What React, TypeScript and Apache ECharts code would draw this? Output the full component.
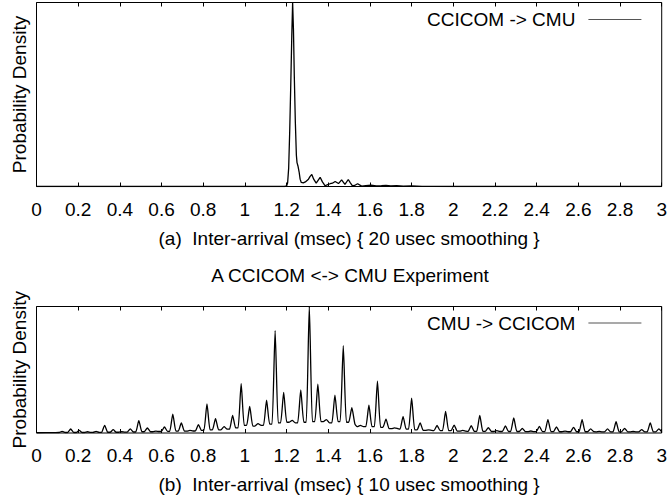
import React, { useEffect, useRef } from "react";
import * as echarts from "echarts";

const FONT = "'Liberation Sans', Arial, Helvetica, sans-serif";

const xTickMin = 0;
const xTickMax = 3;
const xTickInterval = 0.2;

const seriesNames = ["CCICOM -> CMU", "CMU -> CCICOM"];
const xAxisTitles = [
  "(a)  Inter-arrival (msec) { 20 usec smoothing }",
  "(b)  Inter-arrival (msec) { 10 usec smoothing }",
];
const yAxisTitle = "Probability Density";
const chartTitle = "A CCICOM <-> CMU Experiment";

// (a) CCICOM -> CMU, 20 usec smoothing  [msec, relative density %]
const densityA: [number, number][] = [
  [0, 0], [1.19, 0], [1.2, 0.3], [1.205, 2], [1.21, 10], [1.215, 30], [1.22, 55],
  [1.225, 82], [1.229, 100], [1.233, 85], [1.237, 60], [1.242, 35], [1.247, 17],
  [1.25, 13], [1.255, 11], [1.26, 8], [1.265, 4], [1.27, 2.3], [1.28, 2], [1.29, 2.5],
  [1.305, 4], [1.313, 5.5], [1.321, 6.5], [1.33, 4], [1.342, 1.8], [1.352, 3.5],
  [1.361, 5], [1.372, 2.5], [1.385, 0.4], [1.397, 1], [1.409, 1.5], [1.42, 1.8],
  [1.433, 2.7], [1.449, 1.6], [1.464, 3.6], [1.48, 1.1], [1.496, 3.8], [1.506, 2],
  [1.516, 0.4], [1.53, 0.8], [1.541, 1.5], [1.56, 0.2], [1.58, 0.5], [1.605, 0.7],
  [1.63, 0.3], [1.655, 0.4], [1.677, 0.6], [1.7, 0.3], [1.728, 0.5], [1.76, 0.2],
  [1.8, 0.3], [1.85, 0.1], [1.9, 0.1], [2, 0], [3, 0],
];

// (b) CMU -> CCICOM, 10 usec smoothing  [msec, relative density %]
const densityB: [number, number][] = [
  [0, 0.2], [0.09, 0.3],
  [0.108, 0.4], [0.123, 1.3], [0.138, 0.4],
  [0.149, 0.4], [0.164, 3.2], [0.179, 0.4],
  [0.19, 0.4], [0.205, 2], [0.22, 0.4],
  [0.23, 0.4], [0.245, 1], [0.26, 0.5],
  [0.271, 0.5], [0.286, 1.3], [0.301, 0.5],
  [0.312, 0.5], [0.327, 6], [0.342, 0.6],
  [0.353, 0.6], [0.368, 2.6], [0.383, 0.6],
  [0.394, 0.6], [0.409, 1], [0.424, 0.7],
  [0.435, 0.7], [0.45, 3.2], [0.465, 0.8],
  [0.476, 0.8], [0.491, 9.8], [0.506, 1],
  [0.517, 1], [0.532, 4], [0.547, 1],
  [0.558, 1], [0.573, 1.5], [0.588, 1.2],
  [0.599, 1.2], [0.614, 4.8], [0.629, 1.3],
  [0.639, 1.3], [0.654, 15], [0.669, 1.5],
  [0.68, 1.5], [0.695, 8], [0.71, 1.5],
  [0.721, 1.5], [0.736, 2], [0.751, 1.6],
  [0.762, 1.6], [0.777, 6.6], [0.792, 2],
  [0.803, 2], [0.818, 23], [0.833, 2.5],
  [0.844, 2.5], [0.859, 11.4], [0.874, 2.5],
  [0.885, 2.5], [0.9, 5], [0.915, 3],
  [0.926, 3], [0.941, 14], [0.956, 4],
  [0.967, 4], [0.982, 39], [0.997, 6],
  [1.008, 6], [1.023, 21], [1.038, 5.5],
  [1.048, 5.5], [1.063, 7.4], [1.078, 6],
  [1.089, 6], [1.104, 26], [1.119, 7],
  [1.13, 7], [1.145, 81], [1.16, 8],
  [1.171, 8], [1.186, 32], [1.201, 8.5],
  [1.212, 8.5], [1.227, 10], [1.242, 8],
  [1.253, 8], [1.268, 34], [1.283, 8.5],
  [1.294, 8.5], [1.309, 100], [1.324, 9],
  [1.335, 9], [1.35, 38.6], [1.365, 9],
  [1.376, 9], [1.391, 10.6], [1.406, 8],
  [1.417, 8], [1.432, 30], [1.447, 9],
  [1.457, 9], [1.472, 69], [1.487, 8.5],
  [1.498, 8.5], [1.513, 20], [1.528, 7],
  [1.539, 5], [1.554, 6], [1.569, 5],
  [1.58, 5], [1.595, 22], [1.61, 5],
  [1.621, 5], [1.636, 41], [1.651, 4.5],
  [1.662, 4.5], [1.677, 11], [1.692, 3.5],
  [1.703, 3.5], [1.718, 4], [1.733, 3.5],
  [1.744, 3], [1.759, 13], [1.774, 3],
  [1.785, 3], [1.8, 27.5], [1.815, 2.5],
  [1.826, 2.5], [1.841, 8], [1.856, 2],
  [1.866, 2], [1.881, 2.5], [1.896, 2],
  [1.907, 1.8], [1.922, 6], [1.937, 1.8],
  [1.948, 1.8], [1.963, 17], [1.978, 1.8],
  [1.989, 1.8], [2.004, 6.3], [2.019, 1.5],
  [2.03, 1.5], [2.045, 2], [2.06, 1.5],
  [2.071, 1.3], [2.086, 5.8], [2.101, 1.3],
  [2.112, 1.3], [2.127, 14], [2.142, 1.3],
  [2.153, 1.3], [2.168, 4.2], [2.183, 1.2],
  [2.194, 1.2], [2.209, 1.8], [2.224, 1.2],
  [2.235, 1.2], [2.25, 5.6], [2.265, 1.2],
  [2.275, 1.2], [2.29, 12], [2.305, 1.2],
  [2.316, 1.2], [2.331, 3.7], [2.346, 1.1],
  [2.357, 1.1], [2.372, 1.6], [2.387, 1.1],
  [2.398, 1.1], [2.413, 5.3], [2.428, 1.1],
  [2.439, 1.1], [2.454, 10.6], [2.469, 1.1],
  [2.48, 1.1], [2.495, 4.8], [2.51, 1],
  [2.521, 1], [2.536, 1.5], [2.551, 1],
  [2.562, 1], [2.577, 4.5], [2.592, 1],
  [2.603, 1], [2.618, 10.6], [2.633, 1],
  [2.644, 1], [2.659, 3.2], [2.674, 1],
  [2.685, 0.9], [2.7, 1.3], [2.715, 0.9],
  [2.725, 0.9], [2.74, 3.2], [2.755, 0.9],
  [2.766, 0.9], [2.781, 9], [2.796, 0.9],
  [2.807, 0.9], [2.822, 3.7], [2.837, 0.9],
  [2.848, 0.9], [2.863, 1.2], [2.878, 0.9],
  [2.889, 0.9], [2.904, 2.6], [2.919, 0.9],
  [2.93, 0.9], [2.945, 8], [2.96, 0.9],
  [2.971, 0.9], [2.986, 3.2], [3, 1],
];

export default function App() {
  const ref = useRef<HTMLDivElement>(null);

  useEffect(() => {
    if (!ref.current) return;
    const chart = echarts.init(ref.current, undefined, { renderer: "svg" });

    const textBase = { fontFamily: FONT, fontSize: 19, color: "#000" };

    const xBottom = (gridIndex: number, title: string) => ({
      type: "value",
      gridIndex,
      position: "bottom",
      min: xTickMin,
      max: xTickMax,
      interval: xTickInterval,
      axisLine: { show: false },
      axisTick: { show: true, inside: true, length: 4, lineStyle: { color: "#000", width: 1 } },
      axisLabel: { show: true, margin: 13, ...textBase },
      splitLine: { show: false },
      name: title,
      nameLocation: "middle",
      nameGap: 42,
      nameTextStyle: { ...textBase },
    });
    const xTop = (gridIndex: number) => ({
      type: "value",
      gridIndex,
      position: "top",
      min: xTickMin,
      max: xTickMax,
      interval: xTickInterval,
      axisLine: { show: false },
      axisTick: { show: true, inside: true, length: 4, lineStyle: { color: "#000", width: 1 } },
      axisLabel: { show: false },
      splitLine: { show: false },
    });
    const yAx = (gridIndex: number) => ({
      type: "value",
      gridIndex,
      min: 0,
      max: 100,
      axisLine: { show: false },
      axisTick: { show: false },
      axisLabel: { show: false },
      splitLine: { show: false },
      name: yAxisTitle,
      nameLocation: "middle",
      nameGap: 8,
      nameTextStyle: { ...textBase },
    });

    const legendBase = {
      orient: "horizontal",
      right: 23,
      align: "right",
      itemWidth: 53,
      itemHeight: 12,
      selectedMode: false,
      lineStyle: { color: "#555", width: 1.2 },
      itemStyle: { opacity: 0, borderWidth: 0 },
      textStyle: { ...textBase, padding: [0, 8, 0, 0] },
    };

    chart.setOption({
      animation: false,
      backgroundColor: "#fff",
      grid: [
        { left: 36.5, right: 5, top: 2.5, height: 184, show: true, borderColor: "#000", borderWidth: 1, backgroundColor: "transparent" },
        { left: 36.5, right: 5, top: 306.5, height: 126.5, show: true, borderColor: "#000", borderWidth: 1, backgroundColor: "transparent" },
      ],
      xAxis: [xBottom(0, xAxisTitles[0]), xTop(0), xBottom(1, xAxisTitles[1]), xTop(1)],
      yAxis: [yAx(0), yAx(1)],
      legend: [
        { ...legendBase, top: 5, data: [seriesNames[0]] },
        { ...legendBase, top: 308.5, data: [seriesNames[1]] },
      ],
      graphic: [
        {
          type: "text",
          x: 350,
          y: 275,
          style: {
            text: chartTitle,
            fontFamily: FONT,
            fontSize: 19,
            fill: "#000",
            textAlign: "center",
            textVerticalAlign: "middle",
          },
        },
      ],
      series: [
        {
          name: seriesNames[0],
          type: "line",
          xAxisIndex: 0,
          yAxisIndex: 0,
          data: densityA,
          symbol: "none",
          showSymbol: false,
          lineStyle: { color: "#000", width: 1.3 },
          itemStyle: { color: "#000" },
        },
        {
          name: seriesNames[1],
          type: "line",
          xAxisIndex: 2,
          yAxisIndex: 1,
          data: densityB,
          symbol: "none",
          showSymbol: false,
          smooth: 0.2,
          lineStyle: { color: "#000", width: 1.3 },
          itemStyle: { color: "#000" },
        },
      ],
    });

    return () => chart.dispose();
  }, []);

  return <div ref={ref} style={{ width: 670, height: 495, position: "absolute", left: 0, top: 0 }} />;
}
